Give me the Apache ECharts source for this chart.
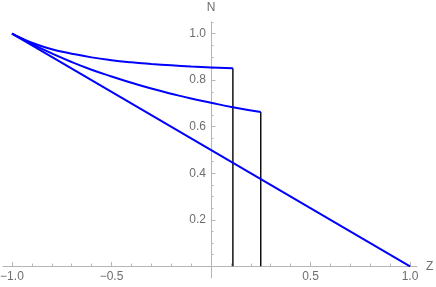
<!DOCTYPE html>
<html>
<head>
<meta charset="utf-8">
<script src="https://cdn.jsdelivr.net/npm/echarts@6/dist/echarts.min.js"></script>
<style>
html,body{margin:0;padding:0;background:#fff;}
#chart{width:436px;height:287px;}
</style>
</head>
<body>
<div id="chart"></div>
<script>
// Data
var lineStraight = [[-1, 1.0], [1.0, 0.0]];
var curveUpper = [[-1, 1.0], [-0.95, 0.979], [-0.9, 0.961], [-0.8, 0.933], [-0.7, 0.914], [-0.6, 0.898],
  [-0.5, 0.886], [-0.4, 0.877], [-0.3, 0.870], [-0.2, 0.864], [-0.1, 0.859], [0.0, 0.855], [0.11, 0.851]];
var curveMiddle = [[-1, 1.0], [-0.95, 0.977], [-0.9, 0.955], [-0.8, 0.915], [-0.7, 0.878], [-0.6, 0.845],
  [-0.5, 0.816], [-0.4, 0.789], [-0.3, 0.764], [-0.2, 0.742], [-0.1, 0.721], [0.0, 0.703], [0.11, 0.684], [0.25, 0.663]];
var cutUpper = [[0.11, 0.0], [0.11, 0.851]];
var cutMiddle = [[0.25, 0.0], [0.25, 0.663]];

var xMajor = [-1.0, -0.5, 0.5, 1.0];
var xMinor = [-0.9, -0.8, -0.7, -0.6, -0.4, -0.3, -0.2, -0.1, 0.1, 0.2, 0.3, 0.4, 0.6, 0.7, 0.8, 0.9];
var yMajor = [0.2, 0.4, 0.6, 0.8, 1.0];
var yMinor = [0.05, 0.1, 0.15, 0.25, 0.3, 0.35, 0.45, 0.5, 0.55, 0.65, 0.7, 0.75, 0.85, 0.9, 0.95, 1.05];

var axisColor = '#b5b5b5';
var textColor = '#6e6e6e';
var fontFam = '"Liberation Sans", Arial, sans-serif';

var chart = echarts.init(document.getElementById('chart'), null, {renderer: 'canvas'});

function fmtX(v) { return (v < 0 ? '\u2212' : '') + Math.abs(v).toFixed(1); }

var W = 436, H = 287;
var gLeft = 3, gRight = 19, gTop = 22, gBottom = 9;
var xMin = -1.045, xMax = 1.035, yMin = -0.05, yMax = 1.05;
var gW = W - gLeft - gRight, gH = H - gTop - gBottom;
// shift axes from the grid edges onto the zero lines (crossing axes)
var xAxisOffset = -(gH * (0 - yMin) / (yMax - yMin));
var yAxisOffset = -(gW * (0 - xMin) / (xMax - xMin));

chart.setOption({
  animation: false,
  backgroundColor: '#ffffff',
  grid: {left: gLeft, right: gRight, top: gTop, bottom: gBottom, containLabel: false, outerBoundsMode: 'none'},
  xAxis: [
    {
      type: 'value', min: xMin, max: xMax, position: 'bottom', offset: xAxisOffset,
      name: 'Z', nameLocation: 'end', nameGap: 9,
      nameTextStyle: {color: textColor, fontSize: 12, fontFamily: fontFam, align: 'left', verticalAlign: 'middle'},
      axisLine: {show: true, onZero: false, lineStyle: {color: axisColor, width: 1}},
      axisTick: {show: true, inside: true, length: 4.5, customValues: xMajor, lineStyle: {color: axisColor, width: 1}},
      axisLabel: {show: true, customValues: xMajor, formatter: fmtX, margin: 4, color: textColor, fontSize: 12, fontFamily: fontFam},
      splitLine: {show: false}
    },
    {
      type: 'value', min: xMin, max: xMax, position: 'bottom', offset: xAxisOffset,
      axisLine: {show: false, onZero: false},
      axisTick: {show: true, inside: true, length: 2.8, customValues: xMinor, lineStyle: {color: axisColor, width: 1}},
      axisLabel: {show: false},
      splitLine: {show: false}
    }
  ],
  yAxis: [
    {
      type: 'value', min: yMin, max: yMax, position: 'left', offset: yAxisOffset,
      name: 'N', nameLocation: 'end', nameGap: 8,
      nameTextStyle: {color: textColor, fontSize: 12, fontFamily: fontFam},
      axisLine: {show: true, onZero: false, lineStyle: {color: axisColor, width: 1}},
      axisTick: {show: true, inside: true, length: 4.5, customValues: yMajor, lineStyle: {color: axisColor, width: 1}},
      axisLabel: {show: true, customValues: yMajor, formatter: function (v) { return v.toFixed(1); }, margin: 5, color: textColor, fontSize: 12, fontFamily: fontFam},
      splitLine: {show: false}
    },
    {
      type: 'value', min: yMin, max: yMax, position: 'left', offset: yAxisOffset,
      axisLine: {show: false, onZero: false},
      axisTick: {show: true, inside: true, length: 2.5, customValues: yMinor, lineStyle: {color: axisColor, width: 1}},
      axisLabel: {show: false},
      splitLine: {show: false}
    }
  ],
  series: [
    {type: 'line', data: cutUpper, showSymbol: false, lineStyle: {color: '#000000', width: 1.4}, z: 2},
    {type: 'line', data: cutMiddle, showSymbol: false, lineStyle: {color: '#000000', width: 1.4}, z: 2},
    {type: 'line', data: lineStraight, showSymbol: false, lineStyle: {color: '#0000ff', width: 2}, z: 3},
    {type: 'line', data: curveUpper, smooth: true, showSymbol: false, lineStyle: {color: '#0000ff', width: 2}, z: 3},
    {type: 'line', data: curveMiddle, smooth: true, showSymbol: false, lineStyle: {color: '#0000ff', width: 2}, z: 3}
  ]
});
</script>
</body>
</html>
